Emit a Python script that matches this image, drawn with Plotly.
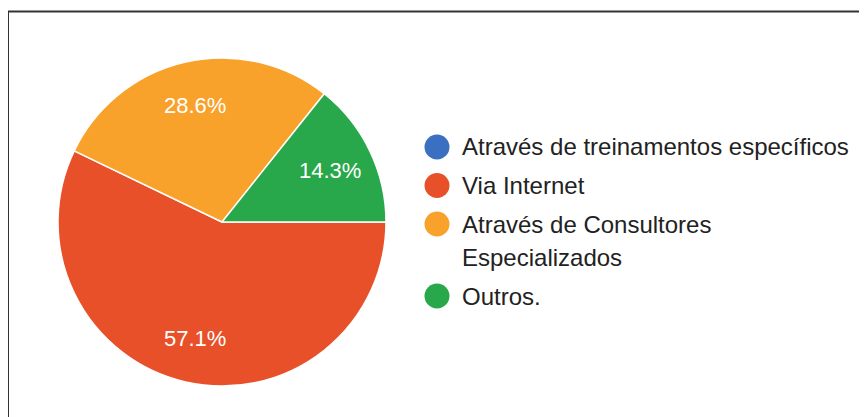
import math
import plotly.graph_objects as go

# dados do gráfico
labels = [
    "Através de treinamentos específicos",
    "Via Internet",
    "Através de Consultores<br>Especializados",
    "Outros.",
]
values = [0, 4, 2, 1]
colors = ["#3b6fc2", "#e8502a", "#f8a12b", "#28a84a"]

W, H = 867, 417
OFF = 8  # margem do body da página
FONT = "Arial, 'Liberation Sans', sans-serif"


def px(x):
    return (x - OFF) / W


def py(y):
    return 1 - (y - OFF) / H


# posição da pizza (pixels da imagem)
CX, CY, R = 222, 222, 164

fig = go.Figure()

fig.add_trace(go.Pie(
    labels=labels,
    values=values,
    sort=False,
    direction="clockwise",
    rotation=90,
    marker=dict(colors=colors, line=dict(color="white", width=1.5)),
    textinfo="none",
    domain=dict(x=[px(CX - R), px(CX + R)], y=[py(CY + R), py(CY - R)]),
    showlegend=False,
    hoverinfo="label+percent",
))

# rótulos de percentual, no ângulo médio de cada fatia
total = sum(values)
cum = 0
for v in values:
    if v > 0:
        ang = math.radians(90 + 360 * (cum + v / 2) / total)
        r = R * 0.73
        fig.add_annotation(
            x=px(CX + r * math.sin(ang)), y=py(CY - r * math.cos(ang)),
            xref="paper", yref="paper", showarrow=False,
            xanchor="center", yanchor="middle",
            text=f"{v / total * 100:.1f}%",
            font=dict(family=FONT, size=22, color="white"),
        )
    cum += v

# legenda manual com círculos
y = 147
for label, color in zip(labels, colors):
    fig.add_shape(
        type="circle", xref="paper", yref="paper",
        xsizemode="pixel", ysizemode="pixel",
        xanchor=px(437), yanchor=py(y),
        x0=-12.5, x1=12.5, y0=-12.5, y1=12.5,
        fillcolor=color, line=dict(width=0),
    )
    for line in label.split("<br>"):
        fig.add_annotation(
            x=px(460), y=py(y), xref="paper", yref="paper",
            xanchor="left", yanchor="middle", showarrow=False,
            text=line, font=dict(family=FONT, size=24, color="#222222"),
        )
        y += 33.5
    y += 5

# moldura
fig.add_shape(
    type="rect", xref="paper", yref="paper",
    x0=px(8), x1=1.05, y0=-0.05, y1=py(11.5),
    line=dict(color="#333333", width=2), fillcolor="rgba(0,0,0,0)",
)

fig.update_layout(
    width=W,
    height=H,
    margin=dict(l=0, r=0, t=0, b=0),
    paper_bgcolor="white",
    plot_bgcolor="white",
    font=dict(family=FONT),
)

fig.write_html("out.html")
